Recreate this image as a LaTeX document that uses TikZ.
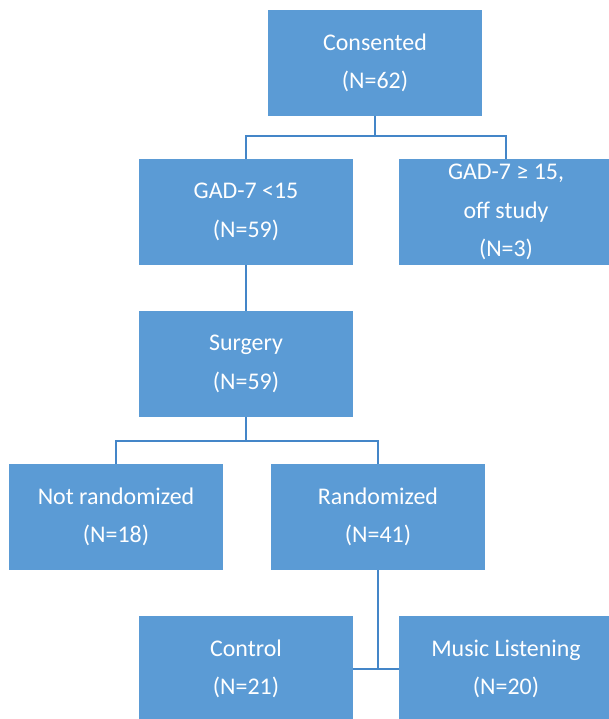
\documentclass[tikz,border=0pt]{standalone}
\usepackage{fontspec}
\setmainfont{Carlito}
\definecolor{boxFill}{RGB}{91, 155, 213}
\definecolor{linkCol}{RGB}{68, 134, 200}

\begin{document}
\begin{tikzpicture}[
    x=0.025cm, y=-0.025cm,
    stage/.style={fill=boxFill, text=white, align=center,
        minimum width=5.35cm, minimum height=2.65cm, inner sep=0pt,
        font=\fontsize{17}{27.5}\selectfont},
    link/.style={linkCol, line width=1.4pt}
]
    \useasboundingbox (0,0) rectangle (609,719);
    \clip (0,0) rectangle (609,719);

    % ===== boxes =====
    \node[stage] (consented) at (375, 63)  {Consented\\(N=62)};
    \node[stage] (gadlow)    at (246, 212) {GAD-7 <15\\(N=59)};
    \node[stage] (gadhigh)   at (506, 212) {GAD-7 ≥ 15,\\off study\\(N=3)};
    \node[stage] (surgery)   at (246, 364) {Surgery\\(N=59)};
    \node[stage] (notrand)   at (116, 517) {Not randomized\\(N=18)};
    \node[stage] (rand)      at (378, 517) {Randomized\\(N=41)};
    \node[stage] (control)   at (246, 669) {Control\\(N=21)};
    \node[stage] (music)     at (506, 669) {Music Listening\\(N=20)};

    % ===== junctions =====
    \coordinate (j1) at (375, 136);
    \coordinate (j2) at (246, 441);
    \coordinate (j3) at (378, 669);

    % ===== connectors =====
    \draw[link] (consented.south) -- (j1);
    \draw[link] (j1) -| (gadlow.north);
    \draw[link] (j1) -| (gadhigh.north);
    \draw[link] (gadlow.south) -- (surgery.north);
    \draw[link] (surgery.south) -- (j2);
    \draw[link] (j2) -| (notrand.north);
    \draw[link] (j2) -| (rand.north);
    \draw[link] (rand.south) -- (j3);
    \draw[link] (control.east) -- (music.west);

\end{tikzpicture}
\end{document}
